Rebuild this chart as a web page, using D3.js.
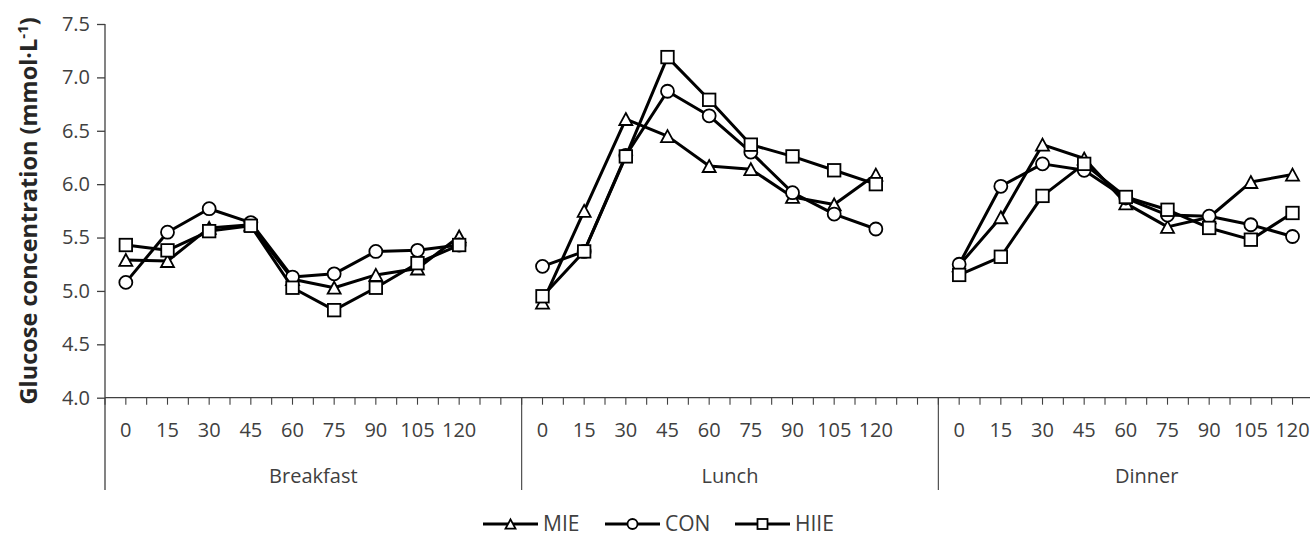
<!DOCTYPE html>
<html>
<head>
<meta charset="utf-8">
<script src="https://cdn.jsdelivr.net/npm/d3@7"></script>
<style>
  html, body { margin: 0; padding: 0; background: #fff; }
  svg { display: block; }
</style>
</head>
<body>
<svg id="chart" width="1310" height="537"></svg>
<script>
// ---- data ----
const meals = ["Breakfast", "Lunch", "Dinner"];
const times = [0, 15, 30, 45, 60, 75, 90, 105, 120];
const yTicks = [4.0, 4.5, 5.0, 5.5, 6.0, 6.5, 7.0, 7.5];
const seriesNames = ["MIE", "CON", "HIIE"];
const mieValues = [
  [5.29, 5.28, 5.59, 5.62, 5.11, 5.03, 5.15, 5.21, 5.51],
  [4.89, 5.75, 6.61, 6.45, 6.17, 6.14, 5.88, 5.81, 6.09],
  [5.24, 5.69, 6.37, 6.24, 5.82, 5.60, 5.69, 6.02, 6.09]
];
const conValues = [
  [5.08, 5.55, 5.77, 5.64, 5.13, 5.16, 5.37, 5.38, 5.43],
  [5.23, 5.37, 6.27, 6.87, 6.64, 6.30, 5.92, 5.72, 5.58],
  [5.25, 5.98, 6.19, 6.13, 5.87, 5.71, 5.70, 5.62, 5.51]
];
const hiieValues = [
  [5.43, 5.38, 5.56, 5.61, 5.03, 4.82, 5.03, 5.26, 5.43],
  [4.95, 5.37, 6.26, 7.19, 6.79, 6.37, 6.26, 6.13, 6.00],
  [5.15, 5.32, 5.89, 6.19, 5.88, 5.76, 5.59, 5.48, 5.73]
];

// ---- layout ----
const svg = d3.select("#chart");
const plotLeft = 105, plotTop = 24, plotBottom = 397.7;
const slotsPerGroup = 10;            // 9 time points + one empty slot
const slotW = 41.667;
const groupW = slotsPerGroup * slotW;
const axisColor = "#404040";
const textColor = "#404040";
const font = "'Open Sans', sans-serif";

const slotKeys = [];
meals.forEach(m => { for (let i = 0; i < slotsPerGroup; i++) slotKeys.push(m + "|" + i); });
const x = d3.scaleBand().domain(slotKeys).range([plotLeft, plotLeft + slotKeys.length * slotW]).padding(0);
const y = d3.scaleLinear().domain([4, 7.5]).range([plotBottom, plotTop]);
const cx = (m, i) => x(m + "|" + i) + x.bandwidth() / 2;

// ---- y axis ----
const yAxis = svg.append("g").attr("transform", `translate(${plotLeft},0)`)
  .call(d3.axisLeft(y).tickValues(yTicks).tickFormat(d3.format(".1f")).tickSize(8).tickSizeOuter(0).tickPadding(7));
yAxis.select(".domain").remove();
yAxis.selectAll(".tick line").attr("stroke", axisColor).attr("stroke-width", 1.3);
yAxis.selectAll(".tick text").attr("fill", textColor).style("font-family", font).style("font-size", "20px");
svg.append("line").attr("x1", plotLeft).attr("x2", plotLeft).attr("y1", plotTop).attr("y2", 490)
  .attr("stroke", axisColor).attr("stroke-width", 1.3);

// ---- x axis ----
svg.append("line").attr("x1", plotLeft).attr("x2", 1310).attr("y1", plotBottom).attr("y2", plotBottom)
  .attr("stroke", axisColor).attr("stroke-width", 1.3);
const halfTicks = d3.range(0, slotKeys.length * 2 + 1).map(k => plotLeft + k * x.bandwidth() / 2);
svg.append("g").selectAll("line").data(halfTicks).join("line")
  .attr("x1", d => d).attr("x2", d => d).attr("y1", plotBottom).attr("y2", plotBottom + 7)
  .attr("stroke", axisColor).attr("stroke-width", 1.1);
svg.append("g").selectAll("line").data(meals.slice(1)).join("line")
  .attr("x1", m => x(m + "|0")).attr("x2", m => x(m + "|0"))
  .attr("y1", plotBottom).attr("y2", 490)
  .attr("stroke", axisColor).attr("stroke-width", 1.1);
meals.forEach(m => {
  svg.append("g").selectAll("text").data(times).join("text")
    .attr("x", (d, i) => cx(m, i)).attr("y", 436.5)
    .attr("text-anchor", "middle").attr("fill", textColor)
    .style("font-family", font).style("font-size", "20px")
    .text(d => d);
});
svg.append("g").selectAll("text").data(meals).join("text")
  .attr("x", m => x(m + "|0") + groupW / 2).attr("y", 483)
  .attr("text-anchor", "middle").attr("fill", textColor)
  .style("font-family", font).style("font-size", "20px")
  .text(m => m);

// ---- y title ----
const title = svg.append("text")
  .attr("transform", `translate(37,${(plotTop + plotBottom) / 2}) rotate(-90)`)
  .attr("text-anchor", "middle").attr("fill", "#262626")
  .style("font-family", font).style("font-weight", "bold").style("font-size", "23.5px");
title.append("tspan").text("Glucose concentration (mmol·L");
title.append("tspan").attr("dy", -9).style("font-size", "15px").text("-1");
title.append("tspan").attr("dy", 9).text(")");

// ---- markers ----
function drawMarker(g, type, px, py, s) {
  if (type === "MIE") {
    const h = s * 0.92, w = s;
    g.append("path").attr("d", `M${px},${py - h / 2}L${px + w / 2},${py + h / 2}L${px - w / 2},${py + h / 2}Z`)
      .attr("fill", "#fff").attr("stroke", "#000").attr("stroke-width", 1.8);
  } else if (type === "CON") {
    g.append("circle").attr("cx", px).attr("cy", py).attr("r", s / 2)
      .attr("fill", "#fff").attr("stroke", "#000").attr("stroke-width", 1.8);
  } else {
    g.append("rect").attr("x", px - s / 2).attr("y", py - s / 2).attr("width", s).attr("height", s)
      .attr("fill", "#fff").attr("stroke", "#000").attr("stroke-width", 1.8);
  }
}

const allSeries = [
  { name: "MIE", values: mieValues, size: 13 },
  { name: "CON", values: conValues, size: 13 },
  { name: "HIIE", values: hiieValues, size: 12.5 }
];
const line = d3.line().x(d => d[0]).y(d => d[1]);
allSeries.forEach(s => {
  const g = svg.append("g");
  meals.forEach((m, mi) => {
    const pts = s.values[mi].map((v, i) => [cx(m, i), y(v)]);
    g.append("path").attr("d", line(pts)).attr("fill", "none")
      .attr("stroke", "#000").attr("stroke-width", 3).attr("stroke-linejoin", "round");
    pts.forEach(p => drawMarker(g, s.name, p[0], p[1], s.size));
  });
});

// ---- legend ----
const legendItems = [
  { name: "MIE", x0: 483 },
  { name: "CON", x0: 605 },
  { name: "HIIE", x0: 735 }
];
const lg = svg.append("g");
legendItems.forEach(it => {
  lg.append("line").attr("x1", it.x0).attr("x2", it.x0 + 55).attr("y1", 524).attr("y2", 524)
    .attr("stroke", "#000").attr("stroke-width", 3);
  drawMarker(lg, it.name, it.x0 + 27.5, 524, 10);
  lg.append("text").attr("x", it.x0 + 60).attr("y", 531).attr("fill", textColor)
    .style("font-family", font).style("font-size", "21px").text(it.name);
});
</script>
</body>
</html>
